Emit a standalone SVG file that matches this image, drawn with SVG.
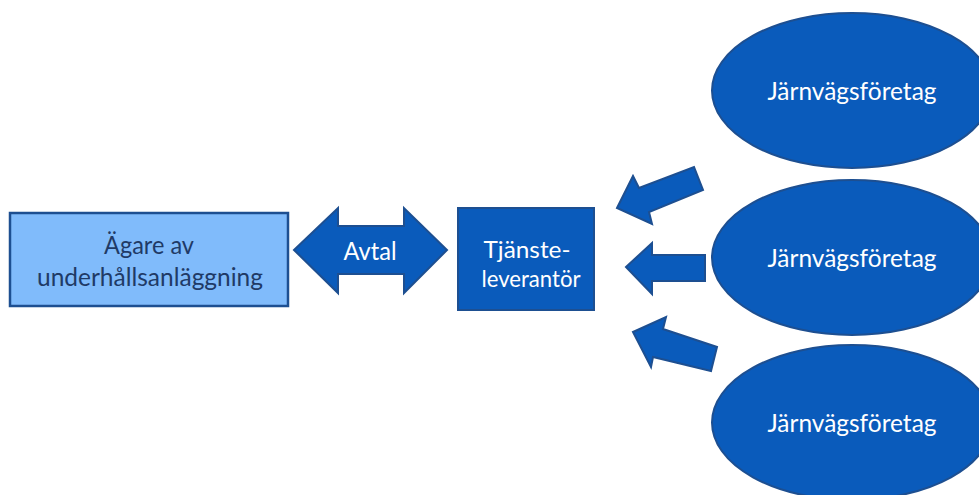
<svg xmlns="http://www.w3.org/2000/svg" width="979" height="495" viewBox="0 0 979 495">
  <style>
    .shape { fill: #0a5bbb; stroke: #1d4f91; stroke-width: 2; stroke-linejoin: miter; }
    .owner { fill: #80bbfb; stroke: #1d4f91; stroke-width: 2.5; }
    .label { font-family: Lato, "Open Sans", "Liberation Sans", sans-serif; font-size: 25px; text-anchor: middle; }
    .small { font-size: 23px; }
    .light { fill: #ffffff; }
    .dark { fill: #1f3a66; }
  </style>
  <rect width="979" height="495" fill="#ffffff"/>

  <!-- contract link and block arrows -->
  <g id="connectors">
    <g id="avtal">
      <polygon class="shape" points="294,250 338,208 338,226 404,226 404,208 447,250 404,293 404,274 338,274 338,293"/>
      <text class="label light" x="370" y="260" textLength="53" lengthAdjust="spacingAndGlyphs">Avtal</text>
    </g>
    <polygon id="arrow-top" class="shape" points="617,208 633,176 639,188 694,167 703,190 649,212 652,224"/>
    <polygon id="arrow-mid" class="shape" points="626,267 652,243 652,255 705,255 705,281 652,281 652,294"/>
    <polygon id="arrow-bottom" class="shape" points="633,332 666,317 663,329 717,347 711,371 653,357 651,367"/>
  </g>

  <g id="owner">
    <rect class="owner" x="10" y="213" width="278" height="93"/>
    <text class="label dark" x="149" y="254" textLength="90" lengthAdjust="spacingAndGlyphs">Ägare av</text>
    <text class="label dark" x="150" y="286" textLength="226" lengthAdjust="spacingAndGlyphs">underhållsanläggning</text>
  </g>

  <g id="provider">
    <rect class="shape" x="458" y="208" width="136" height="102"/>
    <text class="label small light" x="527" y="258" textLength="87" lengthAdjust="spacingAndGlyphs">Tjänste-</text>
    <text class="label small light" x="531" y="287" textLength="99" lengthAdjust="spacingAndGlyphs">leverantör</text>
  </g>

  <g id="operator-1">
    <ellipse class="shape" cx="852" cy="90.5" rx="140" ry="77.5"/>
    <text class="label light" x="852" y="100" textLength="169" lengthAdjust="spacingAndGlyphs">Järnvägsföretag</text>
  </g>

  <g id="operator-2">
    <ellipse class="shape" cx="852" cy="257.5" rx="140" ry="77.5"/>
    <text class="label light" x="852" y="267" textLength="169" lengthAdjust="spacingAndGlyphs">Järnvägsföretag</text>
  </g>

  <g id="operator-3">
    <ellipse class="shape" cx="852" cy="422.5" rx="140" ry="77.5"/>
    <text class="label light" x="852" y="432" textLength="169" lengthAdjust="spacingAndGlyphs">Järnvägsföretag</text>
  </g>
</svg>
